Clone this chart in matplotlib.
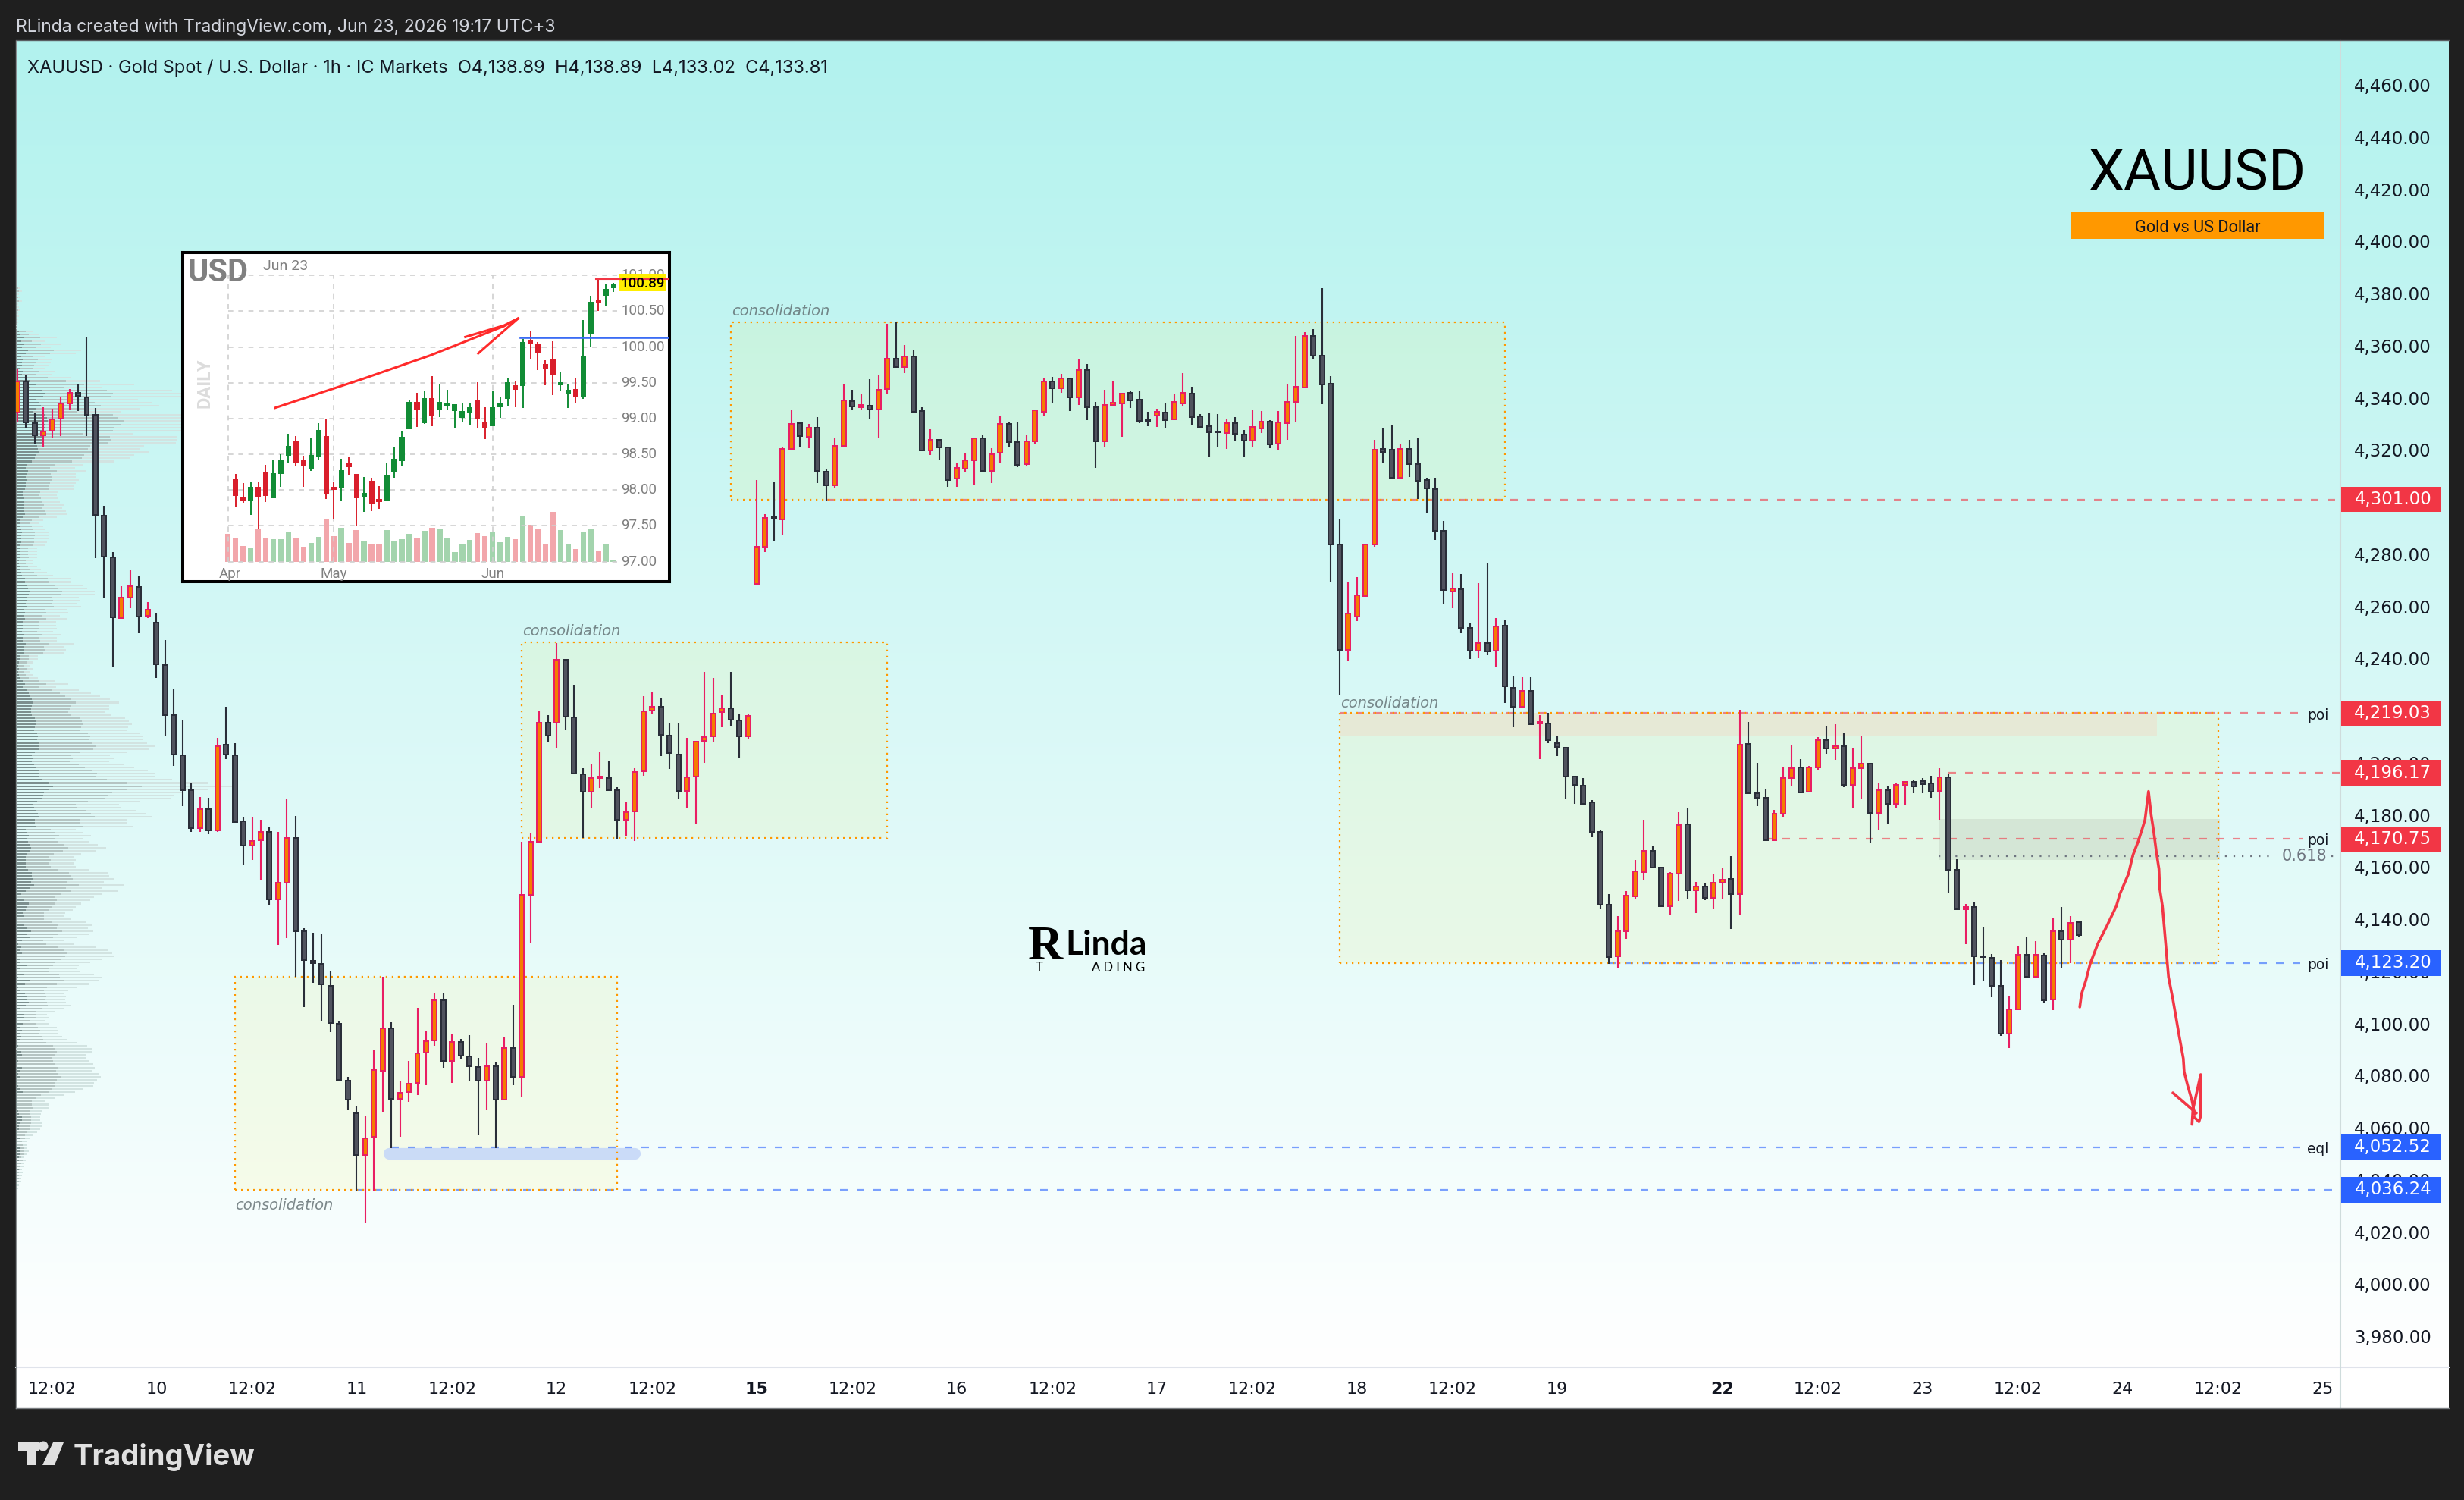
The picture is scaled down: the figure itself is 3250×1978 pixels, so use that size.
import numpy as np
import matplotlib
matplotlib.use("Agg")
import matplotlib.pyplot as plt
from matplotlib.patches import Rectangle, Circle, Polygon

# XAUUSD 1h candles
opens = [
    4334.5,4346.4,4330.2,4325.5,4327.3,4331.9,4337.9,4342.0,4340.2,4333.6,
    4294.9,4278.9,4255.6,4263.3,4267.3,4256.3,4253.9,4237.6,4218.2,4203.0,
    4189.5,4175.0,4182.3,4174.0,4206.8,4203.0,4177.6,4168.1,4170.4,4173.5,
    4147.5,4153.9,4171.2,4135.5,4124.0,4122.9,4114.4,4100.0,4078.1,4065.6,
    4049.5,4056.5,4081.8,4098.1,4071.1,4073.7,4077.1,4088.8,4093.4,4108.9,
    4085.7,4092.9,4087.5,4083.3,4078.0,4083.7,4070.7,4090.7,4079.5,4149.3,
    4169.8,4215.5,4215.4,4239.6,4217.5,4195.5,4188.9,4194.1,4194.2,4189.6,
    4178.2,4181.2,4196.9,4219.9,4221.4,4210.4,4203.2,4189.1,4194.8,4208.3,
    4210.0,4219.4,4220.9,4216.2,4210.0,4268.5,4283.0,4294.3,4293.4,4320.3,
    4330.3,4325.1,4328.5,4311.8,4306.3,4321.7,4338.8,4336.5,4336.9,4335.4,
    4343.3,4355.0,4351.9,4356.0,4334.8,4319.9,4324.0,4321.1,4309.1,4312.9,
    4315.9,4324.6,4312.0,4318.8,4329.9,4322.9,4314.7,4323.2,4334.7,4346.4,
    4343.7,4347.3,4340.3,4350.5,4336.3,4323.4,4337.3,4337.9,4341.8,4339.2,
    4331.6,4333.3,4334.5,4331.8,4337.9,4341.5,4333.0,4329.0,4327.2,4326.6,
    4330.2,4325.8,4323.6,4328.3,4331.0,4322.5,4330.3,4338.5,4344.0,4363.6,
    4356.3,4345.5,4283.6,4243.3,4256.2,4264.0,4283.6,4320.5,4320.0,4309.4,
    4320.5,4314.7,4308.4,4305.1,4289.1,4265.8,4266.7,4251.6,4243.1,4245.8,
    4243.1,4252.5,4228.9,4221.4,4227.7,4215.2,4215.2,4207.4,4205.9,4194.6,
    4191.1,4184.7,4173.6,4145.7,4125.9,4135.5,4148.9,4158.2,4166.3,4159.7,
    4145.1,4157.6,4176.3,4151.2,4152.4,4148.3,4153.9,4155.3,4149.5,4207.1,
    4188.2,4186.6,4170.4,4180.6,4194.0,4198.1,4188.8,4198.1,4208.6,4205.4,
    4206.5,4191.4,4197.8,4199.8,4180.9,4189.6,4184.1,4191.4,4192.6,4192.9,
    4192.0,4189.1,4194.3,4158.8,4143.7,4144.6,4125.9,4125.1,4114.3,4096.0,
    4105.3,4126.5,4117.8,4126.2,4109.1,4135.3,4132.3,4138.89]
closes = [
    4346.4,4330.5,4325.6,4327.1,4331.7,4337.9,4341.8,4340.8,4333.6,4295.1,
    4279.0,4255.7,4263.4,4267.6,4256.2,4258.8,4237.8,4218.2,4203.2,4189.5,
    4174.8,4182.3,4174.0,4206.5,4203.2,4177.3,4168.1,4170.0,4173.5,4147.5,
    4154.1,4171.2,4135.5,4124.3,4123.1,4114.9,4100.2,4078.3,4070.7,4049.5,
    4056.0,4082.2,4098.1,4071.1,4073.4,4076.9,4088.5,4093.3,4108.9,4085.7,
    4092.9,4087.6,4083.5,4078.0,4083.7,4070.7,4090.7,4079.5,4149.3,4169.7,
    4215.5,4210.4,4239.6,4217.6,4195.9,4188.9,4194.2,4194.6,4189.6,4178.0,
    4181.0,4196.6,4219.7,4221.6,4210.7,4203.7,4189.1,4194.4,4208.2,4209.9,
    4218.9,4221.0,4216.5,4210.1,4218.0,4282.9,4294.0,4293.5,4320.3,4330.0,
    4325.2,4328.6,4311.9,4306.3,4321.5,4338.9,4336.6,4337.2,4335.4,4343.1,
    4355.0,4351.7,4355.8,4334.7,4319.9,4324.0,4321.1,4308.5,4313.0,4315.9,
    4324.6,4312.0,4318.5,4329.9,4323.1,4314.4,4323.2,4335.1,4346.4,4343.7,
    4347.3,4340.3,4350.5,4336.3,4323.4,4337.4,4338.0,4341.5,4339.1,4331.2,
    4331.2,4334.5,4331.5,4338.3,4341.8,4332.7,4328.9,4326.9,4326.9,4330.2,
    4326.3,4323.6,4328.7,4331.0,4322.2,4330.5,4338.3,4344.1,4363.6,4356.2,
    4345.2,4283.6,4243.3,4257.4,4264.1,4283.6,4320.2,4319.3,4309.4,4320.5,
    4314.6,4308.3,4305.4,4289.1,4266.4,4266.8,4251.8,4243.1,4245.8,4242.8,
    4252.2,4229.2,4221.4,4227.7,4214.7,4215.6,4208.6,4206.2,4194.6,4191.4,
    4184.3,4173.5,4145.7,4125.6,4135.5,4149.1,4158.4,4166.3,4159.7,4145.1,
    4157.6,4176.2,4151.2,4152.4,4148.3,4153.9,4155.3,4149.5,4206.8,4188.2,
    4186.7,4170.4,4180.6,4194.0,4197.8,4188.5,4198.1,4208.6,4205.4,4206.5,
    4191.4,4197.8,4199.8,4180.9,4189.6,4184.1,4191.4,4192.6,4190.8,4191.9,
    4188.8,4194.3,4158.8,4143.7,4144.6,4125.7,4125.6,4114.3,4096.0,4105.5,
    4126.5,4117.8,4126.5,4108.8,4135.3,4132.3,4138.5,4133.81]
highs = [
    4351.2,4348.6,4334.5,4336.5,4335.7,4340.6,4343.4,4345.4,4363.5,4336.0,
    4298.6,4280.8,4267.7,4274.1,4271.5,4261.7,4257.2,4247.1,4228.1,4216.3,
    4192.4,4186.9,4186.6,4209.6,4221.4,4207.5,4178.9,4178.9,4178.2,4175.4,
    4173.4,4186.0,4179.6,4136.5,4134.8,4134.5,4120.2,4101.0,4079.5,4068.4,
    4064.3,4089.7,4117.8,4100.4,4077.7,4085.6,4106.0,4097.2,4111.5,4111.9,
    4096.1,4094.1,4095.5,4086.7,4092.3,4085.1,4094.9,4107.2,4169.7,4172.8,
    4219.6,4218.2,4246.0,4239.6,4230.0,4197.8,4199.4,4204.4,4200.7,4190.6,
    4185.2,4197.8,4225.5,4227.3,4225.1,4215.0,4215.0,4209.7,4208.5,4235.0,
    4232.4,4225.8,4235.0,4218.8,4218.5,4308.6,4295.3,4307.7,4321.1,4335.1,
    4330.4,4329.9,4332.5,4312.9,4324.9,4345.0,4343.0,4341.2,4347.2,4349.0,
    4368.5,4368.9,4360.3,4358.5,4336.4,4327.9,4324.3,4321.2,4315.0,4318.9,
    4324.9,4325.5,4320.6,4332.9,4330.5,4330.5,4325.6,4335.5,4347.7,4348.0,
    4349.2,4347.7,4354.7,4352.9,4338.4,4343.1,4346.5,4341.9,4342.5,4342.8,
    4334.6,4335.8,4338.1,4341.6,4349.4,4344.2,4333.7,4334.0,4333.7,4331.7,
    4332.6,4327.6,4335.2,4334.9,4331.4,4334.9,4345.1,4363.6,4365.2,4366.3,
    4382.0,4348.3,4293.6,4269.4,4271.2,4284.0,4323.8,4328.2,4329.7,4322.4,
    4323.8,4324.5,4309.3,4309.3,4292.7,4272.9,4272.3,4253.4,4268.9,4276.5,
    4255.5,4254.6,4233.0,4232.7,4232.7,4218.2,4219.3,4210.0,4206.2,4194.6,
    4194.1,4185.7,4174.3,4149.6,4141.2,4150.8,4162.7,4178.1,4167.9,4159.7,
    4158.0,4181.0,4182.5,4154.3,4153.7,4157.4,4159.5,4164.1,4220.3,4215.7,
    4199.9,4189.7,4181.9,4198.2,4206.9,4201.4,4198.8,4209.8,4213.9,4214.8,
    4211.6,4205.4,4210.4,4199.8,4192.4,4191.2,4192.4,4192.9,4193.5,4194.1,
    4195.0,4197.9,4195.9,4163.0,4145.8,4146.7,4137.1,4126.6,4124.3,4110.6,
    4129.8,4133.0,4131.6,4126.9,4140.3,4144.7,4141.2,4138.89]
lows = [
    4330.8,4328.3,4322.2,4321.0,4324.4,4325.2,4335.6,4334.8,4325.2,4278.6,
    4263.1,4236.7,4255.6,4259.4,4249.8,4255.6,4232.4,4210.3,4198.9,4183.4,
    4173.4,4173.4,4172.5,4173.4,4201.3,4177.3,4161.1,4162.8,4155.2,4145.4,
    4130.2,4132.8,4117.8,4106.3,4115.7,4100.9,4096.8,4078.3,4066.8,4035.9,
    4023.5,4035.9,4066.0,4052.3,4056.6,4069.8,4072.4,4076.2,4091.5,4083.1,
    4077.2,4086.3,4078.2,4057.2,4066.8,4052.3,4070.7,4076.2,4071.8,4131.1,
    4169.4,4207.9,4205.4,4212.6,4195.9,4171.1,4182.6,4190.3,4189.3,4170.7,
    4172.1,4170.1,4195.1,4218.8,4202.6,4197.5,4186.3,4182.6,4176.6,4200.0,
    4207.9,4213.7,4214.0,4201.6,4209.3,4268.2,4280.9,4285.3,4287.6,4319.9,
    4321.1,4320.8,4307.4,4300.5,4305.6,4321.7,4335.1,4335.4,4331.8,4324.4,
    4341.2,4351.7,4349.5,4334.0,4319.9,4318.0,4316.3,4305.8,4305.8,4311.3,
    4306.7,4311.6,4307.3,4315.1,4321.0,4313.4,4313.7,4322.4,4332.9,4338.1,
    4341.9,4334.9,4337.2,4331.4,4313.1,4321.0,4336.6,4325.0,4336.1,4330.2,
    4329.1,4328.8,4328.2,4331.8,4336.6,4329.7,4328.5,4317.5,4321.0,4320.4,
    4323.6,4317.2,4321.2,4326.5,4320.6,4319.8,4323.9,4330.8,4343.6,4355.0,
    4337.5,4269.5,4226.0,4239.2,4254.3,4264.0,4282.9,4315.1,4309.0,4309.0,
    4309.6,4301.2,4295.9,4285.4,4261.0,4259.2,4249.7,4239.8,4240.1,4241.2,
    4236.9,4223.0,4213.7,4221.4,4214.7,4201.5,4207.6,4202.6,4186.3,4184.3,
    4183.9,4171.5,4143.8,4122.9,4121.5,4132.5,4147.9,4154.8,4159.7,4145.1,
    4141.4,4147.0,4147.6,4142.3,4147.3,4143.8,4147.6,4136.2,4141.4,4188.2,
    4183.3,4170.4,4170.2,4179.0,4190.9,4188.5,4188.8,4197.3,4203.4,4201.1,
    4190.6,4182.8,4186.3,4169.5,4174.0,4176.6,4182.8,4183.9,4188.3,4188.3,
    4186.6,4178.1,4149.9,4143.7,4130.4,4114.7,4116.4,4110.0,4095.2,4090.6,
    4105.3,4117.3,4117.3,4107.7,4105.1,4121.4,4123.1,4133.02]

# 4,300 and 4,220 sit fully behind the pills, so they are left out
price_ticks = [3980,4000,4020,4040,4060,4080,4100,4120,4140,4160,4180,4200,
               4240,4260,4280,4320,4340,4360,4380,4400,4420,4440,4460]
xtick_pos = [4,16,27,39,50,62,73,85,96,108,119,131,142,154,165,177,196,207,219,230,242,253,265]
xtick_labels = ["12:02","10","12:02","11","12:02","12","12:02","15","12:02","16","12:02","17",
                "12:02","18","12:02","19","22","12:02","23","12:02","24","12:02","25"]
bold_days = ["15", "22"]

# volume profile on the left, row widths in pixels
profile_light = [
    6,8,4,5,8,3,4,5,3,4,3,3,2,2,
    23,31,54,39,59,46,86,79,39,48,46,44,39,51,48,73,111,156,113,206,219,219,161,179,189,164,139,219,230,240,235,225,222,154,213,213,211,169,163,176,156,151,129,89,78,93,79,79,83,79,76,76,56,54,56,58,63,61,66,68,54,36,31,36,39,43,43,43,41,38,28,28,28,28,23,23,28,33,41,49,73,73,88,94,104,104,83,84,81,86,68,69,58,68,53,53,54,49,59,54,54,76,64,66,63,29,29,23,18,23,18,23,29,51,69,53,83,99,111,124,136,123,123,118,126,144,149,153,148,146,163,168,168,173,183,176,146,124,129,123,143,156,174,184,183,206,253,286,253,219,209,204,163,136,139,159,171,179,146,146,154,79,89,99,89,96,108,119,106,86,76,79,76,79,96,121,123,129,116,143,113,
    134,114,103,98,86,79,75,65,63,72,93,101,95,102,96,80,64,76,106,121,127,130,114,98,83,81,85,103,114,110,97,80,69,64,66,65,66,72,63,52,41,44,38,44,54,56,55,61,68,81,94,101,101,93,92,96,102,104,100,110,112,107,103,102,88,78,64,52,39,43,43,35,33,32,32,34,34,32,28,22,18,14,15,15,17,15,11,13,11,10,8,9,8,7,7,4,3]
profile_mid = [
    3,4,2,3,4,2,2,3,2,2,2,2,1,1,
    13,17,32,21,33,27,50,45,22,29,27,24,22,30,27,42,66,90,64,120,128,125,92,104,112,96,80,128,135,142,138,130,128,88,124,125,122,98,95,103,90,87,74,52,45,54,46,47,48,45,44,44,32,31,33,34,37,35,38,40,31,21,18,21,23,25,25,24,24,22,16,16,16,17,13,13,16,19,24,28,42,43,51,55,61,60,48,49,47,50,39,40,34,40,31,30,31,28,34,31,32,44,37,38,36,17,17,14,11,14,11,13,17,30,40,31,48,58,65,72,79,72,71,69,73,84,87,89,86,85,95,98,97,100,106,102,85,72,75,71,83,91,101,107,106,120,147,166,147,127,121,118,95,79,81,92,99,104,85,85,89,46,52,57,52,56,63,69,62,50,44,46,44,46,56,70,72,75,67,83,66,
    73,60,52,54,51,47,44,37,37,37,47,56,54,61,56,49,36,40,56,63,67,65,60,52,49,43,43,57,58,64,54,41,37,38,40,39,41,42,34,27,26,27,19,26,29,32,31,34,36,40,49,51,54,51,47,49,52,56,53,56,59,54,52,52,47,44,33,27,21,21,22,19,18,20,20,20,19,18,14,12,12,8,9,10,11,10,7,9,7,6,5,4,4,4,4,2,2]
profile_dark = [
    1,2,1,1,2,1,1,1,1,1,1,1,0,0,
    4,6,10,7,11,8,16,13,7,9,8,8,6,9,8,12,19,26,18,34,38,36,27,30,33,27,23,38,41,42,39,38,36,25,36,37,35,28,29,31,26,25,21,15,13,16,14,13,14,13,13,12,9,9,10,10,11,10,11,12,9,6,5,6,7,8,7,7,7,6,5,5,5,5,4,4,5,6,7,8,12,12,15,16,18,17,14,14,13,15,11,12,10,12,9,9,9,8,10,9,9,13,11,11,10,5,5,4,3,4,3,4,5,9,12,9,14,17,19,21,23,21,20,20,21,25,26,26,25,24,28,29,28,30,31,30,25,21,22,21,24,27,30,31,31,35,43,49,43,37,36,35,28,23,24,27,29,30,25,25,26,13,15,17,15,16,18,20,18,15,13,13,13,13,16,21,21,22,20,24,19,
    13,7,1,11,17,14,13,9,10,2,2,11,14,20,15,18,8,3,7,6,8,1,6,6,14,6,2,10,3,18,12,3,5,12,15,14,17,13,5,2,11,11,1,9,5,8,6,7,5,1,3,0,7,8,1,3,1,8,5,3,6,1,1,3,6,9,2,2,2,1,1,3,4,8,8,6,4,4,1,1,5,1,2,5,6,5,4,4,2,2,4,1,1,1,1,1,1]
profile_top_price = 4382.0
profile_bin = 1.186

# boxes: left bar, right bar, top price, bottom price
zone_lefts = [25, 58, 82, 152]
zone_rights = [69, 100, 171, 253]
zone_tops = [4117.9, 4246.2, 4368.9, 4219.03]
zone_bottoms = [4036.24, 4171.1, 4301.0, 4123.2]
zone_label_bars = [25.04, 58.1, 82.1, 152.1]
zone_label_prices = [4030.3, 4250.5, 4373.3, 4222.9]

# levels with pill on the price axis
level_prices = [4301.00, 4219.03, 4196.17, 4170.75, 4123.20, 4052.52, 4036.24]
level_starts = [93, 152, 222, 201, 183, 43, 39]
level_ends = [267, 262.7, 267, 262.7, 262.7, 262.7, 267]
level_colors = ["#f23645", "#f23645", "#f23645", "#f23645", "#2962ff", "#2962ff", "#2962ff"]
side_labels = ["poi", "poi", "poi", "eql"]
side_prices = [4218.0, 4170.2, 4122.5, 4051.7]

# red hand drawn path
path_bars = [237.1,237.3,237.8,238.3,239.2,240.2,241.3,241.7,242.7,243.2,243.8,244.3,244.6,245.0,245.3,245.6,245.9,246.2,246.3,246.6,246.9,247.1,247.3,247.8,248.1,248.5,249.0,249.1,249.5,250.0,250.3]
path_prices = [4106.3,4111.3,4116.5,4123.0,4130.8,4137.3,4145.0,4149.6,4157.4,4164.5,4169.7,4174.9,4178.2,4189.0,4180.1,4173.6,4165.8,4159.3,4151.5,4145.0,4133.4,4125.6,4117.8,4109.3,4103.5,4095.7,4086.6,4081.4,4076.2,4070.4,4065.2]
head1_bars = [247.8, 250.5]
head1_prices = [4073.4, 4065.6]
head2_bars = [250.0, 250.1, 251.0, 251.0, 250.8, 250.3]
head2_prices = [4061.3, 4066.9, 4080.4, 4064.5, 4062.3, 4063.9]

# DXY inset
usd_open = [98.16,97.90,97.84,98.05,98.25,97.89,98.22,98.48,98.68,98.43,
    98.29,98.46,98.76,98.04,98.02,98.37,98.22,97.91,98.13,97.87,
    97.85,98.26,98.41,98.85,99.23,98.93,99.28,99.12,99.17,99.10,
    99.01,99.07,99.26,98.95,98.89,99.16,99.27,99.46,99.45,100.10,
    100.05,99.76,99.84,99.46,99.35,99.41,99.31,100.17,100.66,100.72,100.82]
usd_close = [97.92,97.85,98.04,97.91,97.92,98.24,98.43,98.62,98.38,98.34,
    98.49,98.84,97.94,98.00,98.28,98.32,97.89,97.96,97.81,97.83,
    98.20,98.44,98.74,99.23,99.13,99.28,99.03,99.23,99.22,99.20,
    99.11,99.16,98.99,98.87,99.16,99.21,99.51,99.40,100.07,100.04,
    99.91,99.70,99.61,99.51,99.40,99.30,99.88,100.63,100.61,100.81,100.89]
usd_high = [98.22,98.10,98.12,98.11,98.35,98.42,98.50,98.79,98.76,98.48,
    98.73,98.93,98.99,98.12,98.44,98.46,98.23,98.18,98.17,98.06,
    98.37,98.60,98.82,99.26,99.36,99.39,99.59,99.48,99.40,99.20,
    99.21,99.21,99.51,99.16,99.38,99.31,99.56,99.52,100.11,100.22,
    100.07,99.82,100.08,99.66,99.48,99.57,100.38,100.72,100.94,100.87,100.90]
usd_low = [97.76,97.82,97.65,97.45,97.83,97.89,98.04,98.37,98.33,98.05,
    98.27,98.43,97.88,97.59,97.85,98.20,97.49,97.69,97.71,97.74,
    97.85,98.17,98.34,98.85,98.88,98.92,98.89,99.02,99.13,98.86,
    98.96,98.91,98.87,98.71,98.89,99.01,99.18,99.16,99.15,99.83,
    99.68,99.46,99.33,99.39,99.15,99.22,99.27,100.00,100.50,100.57,100.77]
usd_volume = [109,91,61,55,129,94,88,88,118,94,58,73,97,169,100,133,73,124,79,70,67,124,82,88,109,91,
    121,133,130,94,37,70,85,112,100,118,76,97,88,181,145,130,70,196,124,70,49,115,130,40,67,6]
usd_volume_up = [0,0,0,1,0,0,1,1,1,0,0,1,1,0,0,1,0,0,1,0,0,1,1,1,1,0,
    1,0,1,1,1,1,1,0,0,1,1,1,0,1,0,0,0,0,1,1,0,1,1,0,1,1]
usd_ticks = [97.0, 97.5, 98.0, 98.5, 99.0, 99.5, 100.0, 100.5, 101.0]
usd_months = ["Apr", "May", "Jun"]
usd_month_pos = [-1, 13, 34]
usd_last = 100.89
usd_res = 100.13
arrow_bars = [5.26, 17.0, 25.7, 35.5, 37.4]
arrow_prices = [99.15, 99.56, 99.88, 100.29, 100.40]
arrow_head_bars = [30.4, 35.5, 37.4, 32.1]
arrow_head_prices = [100.14, 100.30, 100.40, 99.91]

W, H = 3250, 1978
DARK = "#1f1f1f"
TEXT = "#131722"
UP_FILL, UP_EDGE = "#f57c00", "#e91e63"
DN_FILL, DN_EDGE = "#50535e", "#2a2e39"
ORANGE = "#ff9800"
px_per_bar = 11.474


def rect(l, t, r, b):
    return [l / W, 1 - b / H, (r - l) / W, (b - t) / H]


fig = plt.figure(figsize=(W / 100, H / 100), dpi=100, facecolor=DARK)

# page: gradient, dark frame, header and logo, in pixel coordinates
fa = fig.add_axes([0, 0, 1, 1], zorder=0)
g = np.linspace(0, 1, 256)[:, None, None]
top = np.array([0xb2, 0xf2, 0xee]) / 255
fa.imshow(top * (1 - g) + g, extent=[21, 3230, 1803, 54], aspect="auto", interpolation="bilinear")
fa.set_xlim(0, W)
fa.set_ylim(H, 0)
fa.axis("off")
fa.add_patch(Rectangle((21, 1803), 3209, 54, fc="white", ec="none"))
fa.plot([21, 3230], [1803, 1803], color="#e0e3eb", lw=1.5)
fa.plot([3087, 3087], [54, 1857], color="#cfdcdc", lw=1.5)
fa.plot([21, 3230], [53, 53], color="#5a5e62", lw=1)
fa.plot([21, 3230], [1857, 1857], color="#7a7e82", lw=1)
fa.plot([21, 21], [54, 1857], color="#8a8e90", lw=1)
fa.text(21, 36, "RLinda created with TradingView.com, Jun 23, 2026 19:17 UTC+3", color="#d1d4dc",
        fontsize=16.5, va="center", family="Inter")
fa.text(36, 90, "XAUUSD · Gold Spot / U.S. Dollar · 1h · IC Markets  O4,138.89  H4,138.89  L4,133.02  C4,133.81",
        color=TEXT, fontsize=17, va="center", family="Inter")
fa.text(2898, 230, "XAUUSD", color="black", fontsize=54, ha="center", va="center", family="Roboto")
fa.add_patch(Rectangle((2732, 280), 334, 35, fc=ORANGE, ec="none"))
fa.text(2899, 300, "Gold vs US Dollar", color=TEXT, fontsize=15.7, ha="center", va="center", family="Roboto")
# TradingView mark
fa.add_patch(Polygon([(24, 1902), (51, 1902), (51, 1913), (48, 1913), (48, 1932), (35, 1932), (35, 1913), (24, 1913)],
                     fc="#e0e0e0", ec="none"))
fa.add_patch(Circle((57, 1907), 6.5, fc="#e0e0e0", ec="none"))
fa.add_patch(Polygon([(70, 1902), (84, 1902), (72, 1932), (56, 1932)], fc="#e0e0e0", ec="none"))
fa.text(97, 1932, "TradingView", color="#e0e0e0", fontsize=27.5, va="baseline", family="Inter", weight="bold")
# RLinda logo
fa.text(1356, 1250, "R", color="black", fontsize=46, family="Liberation Serif", weight="bold", va="center")
fa.text(1405, 1246, "Linda", color="black", fontsize=32, family="Lato", weight="bold", va="center")
fa.text(1366, 1276, "T", color="black", fontsize=12, family="Lato", va="center")
fa.text(1440, 1276, "A D I N G", color="black", fontsize=12, family="Lato", va="center")

# main chart
ax = fig.add_axes(rect(21, 54, 3087, 1803), zorder=1)
ax.patch.set_visible(False)
for s in ax.spines.values():
    s.set_visible(False)
ax.set_xlim(-0.148, 267.06)
ax.set_ylim(3968.1, 4476.9)
ax.yaxis.tick_right()
ax.set_yticks(price_ticks)
ax.set_yticklabels([f"{p:,.2f}" for p in price_ticks])
ax.tick_params(axis="y", length=0, pad=13, labelsize=16.5, labelcolor=TEXT)
ax.set_xticks(xtick_pos)
ax.set_xticklabels(xtick_labels)
ax.tick_params(axis="x", length=0, pad=14, labelsize=16, labelcolor=TEXT)
for lab in ax.get_xticklabels():
    if lab.get_text() in bold_days:
        lab.set_fontweight("bold")

# volume profile
rows = profile_top_price - profile_bin * np.arange(len(profile_light))
left = ax.get_xlim()[0]
for widths, col in [(profile_light, "#d2e3e1"), (profile_mid, "#b5c4c2"), (profile_dark, "#7d8f8e")]:
    ax.barh(rows, np.array(widths) / px_per_bar, left=left, height=0.6, color=col, lw=0, zorder=1)

# consolidation boxes
for l, r, t, b in zip(zone_lefts, zone_rights, zone_tops, zone_bottoms):
    ax.add_patch(Rectangle((l, b), r - l, t - b, fc="#ffee58", ec="none", alpha=0.11, zorder=1.5))
    ax.add_patch(Rectangle((l, b), r - l, t - b, fc="none", ec=ORANGE, lw=1.6, ls=(0, (1, 2.6)), zorder=3))
for xb, yp in zip(zone_label_bars, zone_label_prices):
    ax.text(xb, yp, "consolidation", color="#5e6b6e", alpha=0.8, fontsize=14, style="italic",
            va="center", zorder=4)

# shaded bands inside the last box
ax.add_patch(Rectangle((152, 4210.2), 94, 8.83, fc="#e6e9d6", ec="none", zorder=1.8))
ax.add_patch(Rectangle((220.9, 4162.7), 32.3, 15.7, fc="#59594d", ec="none", alpha=0.1, zorder=1.8))
ax.plot([220.9, 258.9], [4164.1, 4164.1], color="#6f7580", lw=1.6, ls=(0, (1, 4)), zorder=2)
ax.plot([266.0, 266.6], [4164.1, 4164.1], color="#6f7580", lw=1.6, ls=(0, (1, 4)), zorder=2)
ax.text(262.9, 4164.1, "0.618", color="#6f7580", fontsize=15, ha="center", va="center", zorder=4)

# eql pill
ax.plot([42.7, 71], [4050.1, 4050.1], color="#c6d8f8", lw=11, solid_capstyle="round", alpha=0.9, zorder=2)

# levels
for p, s, e, c in zip(level_prices, level_starts, level_ends, level_colors):
    ax.plot([s, e], [p, p], color=c, alpha=0.6, lw=1.6, ls=(0, (4.5, 5.4)), zorder=2.5)
    ax.add_patch(Rectangle((267.15, p - 4.87), 11.5, 9.74, fc=c, ec="none", clip_on=False, zorder=10))
    ax.text(273.1, p, f"{p:,.2f}", color="white", fontsize=16.5, ha="center", va="center",
            clip_on=False, zorder=11)
for t, p in zip(side_labels, side_prices):
    ax.text(264.5, p, t, color=TEXT, fontsize=13.4, ha="center", va="center", zorder=4)

# candles
o = np.array(opens)
c = np.array(closes)
h = np.array(highs)
l = np.array(lows)
x = np.arange(len(o))
up = c >= o
ax.vlines(x[up], l[up], h[up], color=UP_EDGE, lw=1.5, zorder=5)
ax.vlines(x[~up], l[~up], h[~up], color=DN_EDGE, lw=1.5, zorder=5)
ax.bar(x[up], (c - o)[up], bottom=o[up], width=0.52, color=UP_FILL, edgecolor=UP_EDGE, lw=1.44, zorder=6)
ax.bar(x[~up], (o - c)[~up], bottom=c[~up], width=0.52, color=DN_FILL, edgecolor=DN_EDGE, lw=1.44, zorder=6)

# hand drawn arrow
for bx, by in [(path_bars, path_prices), (head1_bars, head1_prices), (head2_bars, head2_prices)]:
    ax.plot(bx, by, color="#f23645", lw=2.6, solid_capstyle="round", solid_joinstyle="round", zorder=8)

# inset: volume under, candles over
inset_xlim = (-6.98, 57.4)
vol_ax = fig.add_axes(rect(241, 333, 883, 767), zorder=3, facecolor="white")
vol_ax.set_xlim(inset_xlim)
vol_ax.set_ylim(-79, 1218)
vol_ax.set_xticks([])
vol_ax.set_yticks([])
vx = np.arange(len(usd_volume)) - 1
vol_colors = ["#a3d4ad" if u else "#f2a6ab" for u in usd_volume_up]
vol_ax.bar(vx, usd_volume, width=0.75, color=vol_colors, lw=0)

ins = fig.add_axes(rect(241, 333, 883, 767), zorder=4)
ins.patch.set_visible(False)
ins.set_xlim(inset_xlim)
ins.set_ylim(96.72, 101.32)
ins.set_xticks([])
ins.set_yticks([])
for s in ins.spines.values():
    s.set_linewidth(2.9)
    s.set_color("black")
ins.hlines(usd_ticks, -1, 50.5, colors="#cfcfcf", lw=1.2, linestyles=(0, (4, 4)), zorder=1)
ins.vlines(usd_month_pos, 97, 101, colors="#cfcfcf", lw=1.2, linestyles=(0, (4, 4)), zorder=1)
uo, uc, uh, ul = map(np.array, (usd_open, usd_close, usd_high, usd_low))
ux = np.arange(len(uo))
g_up = uc >= uo
ins.vlines(ux[g_up], ul[g_up], uh[g_up], color="#118c35", lw=1.4, zorder=3)
ins.vlines(ux[~g_up], ul[~g_up], uh[~g_up], color="#d91e2b", lw=1.4, zorder=3)
ins.bar(ux[g_up], (uc - uo)[g_up], bottom=uo[g_up], width=0.72, color="#118c35", lw=0, zorder=3)
ins.bar(ux[~g_up], (uo - uc)[~g_up], bottom=uc[~g_up], width=0.72, color="#d91e2b", lw=0, zorder=3)
for t in usd_ticks:
    ins.text(51.0, t, f"{t:.2f}", color="#808080", fontsize=13.5, va="center", family="Roboto", zorder=2)
for name, pos in zip(usd_months, usd_month_pos):
    ins.text(pos + 0.3 if name == "Apr" else pos, 96.83, name, color="#808080", fontsize=13.5,
             ha="center", va="center", family="Roboto")
ins.plot([37.65, 57.4], [usd_res, usd_res], color="#3a6cf4", lw=1.9, zorder=4)
ins.add_patch(Rectangle((50.8, 100.78), 6.2, 0.24, fc="#ffee00", ec="none", zorder=4))
ins.plot([47.7, 57.4], [100.95, 100.95], color="#f23645", lw=1.5, zorder=5)
ins.text(53.9, 100.89, f"{usd_last:.2f}", color="black", fontsize=13.5, ha="center", va="center",
         family="Roboto", weight="medium", zorder=6)
ins.plot(arrow_bars, arrow_prices, color="#ff2a2a", lw=2.2, zorder=5)
ins.plot(arrow_head_bars, arrow_head_prices, color="#ff2a2a", lw=2.2, zorder=5)
ins.text(248, 371, "USD", transform=fa.transData, color="#808080", fontsize=30, weight="bold",
         family="Roboto", va="baseline", zorder=6)
ins.text(347, 356, "Jun 23", transform=fa.transData, color="#808080", fontsize=14, family="Roboto",
         va="baseline", zorder=6)
ins.text(270, 505, "DAILY", transform=fa.transData, color="#dcdcdc", fontsize=17, weight="bold",
         family="Roboto", rotation=90, ha="center", va="center", zorder=6)

fig.savefig("out.png", dpi=100, facecolor=DARK)
